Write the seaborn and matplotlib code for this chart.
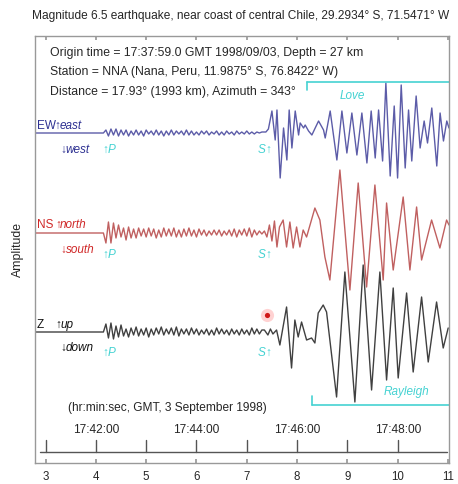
import numpy as np
import pandas as pd
import matplotlib
matplotlib.use("Agg")
import matplotlib.pyplot as plt
import seaborn as sns

# ---------------- data (time in minutes; x=4 -> 17:42:00) ----------------
pre_t = [2.79, 4.12]
pre_a = [0, 0]

noise_t = [4.15, 4.20, 4.25, 4.30, 4.35, 4.40, 4.45, 4.50, 4.55, 4.60,
           4.65, 4.70, 4.75, 4.80, 4.85, 4.90, 4.95, 5.00, 5.05, 5.10,
           5.15, 5.20, 5.25, 5.30, 5.35, 5.40, 5.45, 5.50, 5.55, 5.60,
           5.65, 5.70, 5.75, 5.80, 5.85, 5.90, 5.95, 6.00, 6.05, 6.10,
           6.15, 6.20, 6.25, 6.30, 6.35, 6.40, 6.45, 6.50, 6.55, 6.60,
           6.65, 6.70, 6.75, 6.80, 6.85, 6.90, 6.95, 7.00, 7.05, 7.10,
           7.15, 7.20, 7.25, 7.30]

ew_noise = [0, 3, -3, 4, -2, 4, -3, 3, -2, 3,
            -3, 2, -2, 3, -2, 2, -3, 3, -1, 2,
            -2, 3, -2, 2, -3, 2, -2, 3, -2, 2,
            -1, 2, -2, 3, -2, 2, -2, 1, -2, 2,
            -1, 2, -2, 1, -1, 2, -2, 1, -2, 2,
            -1, 1, -2, 2, -1, 1, -1, 2, -1, 1,
            -1, 1, 0, 1]
ns_noise = [0, -10, 11, -10, 10, -5, 8, -4, 5, -7,
            6, -5, 4, -5, 5, -3, 4, -4, 5, -3,
            4, -5, 3, -4, 5, -3, 4, -3, 5, -4,
            3, -4, 4, -3, 5, -3, 3, -4, 4, -2,
            3, -3, 2, -2, 3, -2, 3, -3, 2, -2,
            3, -3, 4, -4, 3, -2, 4, -3, 5, -4,
            3, -2, 2, -1]
z_noise = [0, 8, -6, 9, -7, 6, -5, 7, -4, 3,
           -5, 4, -3, 5, -4, 3, -3, 4, -5, 3,
           -3, 4, -2, 5, -3, 3, -2, 4, -3, 5,
           -4, 3, -2, 3, -3, 4, -2, 3, -3, 2,
           -2, 3, -3, 2, -3, 4, -2, 3, -2, 2,
           -3, 3, -2, 2, -3, 3, -2, 2, -3, 4,
           -2, 3, -2, 2]

ew_wave_t = [7.38, 7.43, 7.465, 7.50, 7.565, 7.60, 7.664, 7.731, 7.797, 7.843,
             7.897, 7.963, 8.03, 8.062, 8.129, 8.161, 8.228, 8.294, 8.36, 8.427,
             8.526, 8.559, 8.658, 8.791, 8.891, 8.99, 9.089, 9.189, 9.288, 9.388,
             9.473, 9.553, 9.62, 9.70, 9.765, 9.851, 9.931, 9.998, 10.07, 10.149,
             10.216, 10.28, 10.367, 10.446, 10.526, 10.593, 10.678, 10.777, 10.843, 10.91,
             10.976, 11.02]
ew_wave_a = [1, 4, 13, 22, -7, 23, -45, 5, -27, 23,
             -15, 22, -2, 10, 5, 8, 2, -2, 5, 12,
             3, -5, 22, -27, 22, -20, 20, -22, 20, -30,
             22, -25, 23, -28, 50, -43, 27, -45, 48, -35,
             23, -28, 37, -15, 12, -10, 25, -33, 20, -8,
             12, 5]

ns_wave_t = [7.35, 7.40, 7.45, 7.50, 7.55, 7.60, 7.65, 7.723, 7.791, 7.857,
             7.922, 7.99, 8.056, 8.121, 8.189, 8.354, 8.453, 8.553, 8.652, 8.851,
             9.05, 9.215, 9.382, 9.547, 9.712, 9.779, 9.911, 10.109, 10.243, 10.376,
             10.475, 10.674, 10.839, 10.972, 11.02]
ns_wave_a = [2, -4, 8, -8, 12, -14, 6, 13, -14, 11,
             -15, 6, -14, 3, -4, 25, 13, -24, -47, 63,
             -57, 50, -54, 48, -47, 30, -37, 36, -37, 26,
             -27, 13, -15, 13, 8]

z_wave_t = [7.35, 7.42, 7.47, 7.52, 7.592, 7.658, 7.791, 7.89, 7.956, 8.022,
            8.089, 8.189, 8.288, 8.354, 8.42, 8.519, 8.586, 8.785, 8.95, 9.149,
            9.314, 9.481, 9.646, 9.779, 9.911, 10.01, 10.177, 10.308, 10.475, 10.607,
            10.773, 10.905, 11.004]
z_wave_a = [2, -3, 3, -2, 2, -13, 25, -36, 12, -5,
            10, -8, -6, -11, 19, 27, 20, -65, 60, -70,
            67, -58, 60, -48, 44, -46, 39, -40, 35, -30,
            30, -16, 4]

time_ticks = [4, 6, 8, 10]
time_labels = ["17:42:00", "17:44:00", "17:46:00", "17:48:00"]
minute_ticks = [3, 4, 5, 6, 7, 8, 9, 10]
x_ticks = [3, 4, 5, 6, 7, 8, 9, 10, 11]

title = "Magnitude 6.5 earthquake, near coast of central Chile, 29.2934° S, 71.5471° W"
info = ["Origin time = 17:37:59.0 GMT 1998/09/03, Depth = 27 km",
        "Station = NNA (Nana, Peru, 11.9875° S, 76.8422° W)",
        "Distance = 17.93° (1993 km), Azimuth = 343°"]

# ---------------- build table ----------------
def trace(name, noise, wt, wa):
    t = pre_t + noise_t + wt
    a = pre_a + noise + wa
    return pd.DataFrame({"time": t, "amp": a, "comp": name})

df = pd.concat([trace("EW", ew_noise, ew_wave_t, ew_wave_a),
                trace("NS", ns_noise, ns_wave_t, ns_wave_a),
                trace("Z", z_noise, z_wave_t, z_wave_a)], ignore_index=True)
baseline = {"EW": 330, "NS": 230, "Z": 131}
df["y"] = df["amp"] + df["comp"].map(baseline)

# ---------------- styling ----------------
sns.set_theme(style="white")
FAM = ["Liberation Sans", "DejaVu Sans"]
plt.rcParams["font.family"] = FAM

W, H = 458, 484
fig = plt.figure(figsize=(W / 100, H / 100), dpi=100)
ax = fig.add_axes([35 / W, 21 / H, 414 / W, 427 / H])

trace_col = {"EW": "#5c5ca8", "NS": "#c06060", "Z": "#404040"}
label_col = {"EW": "#2e3192", "NS": "#d02828", "Z": "#111111"}
CYAN = "#45d2d2"

for comp in ["EW", "NS", "Z"]:
    sns.lineplot(data=df[df["comp"] == comp], x="time", y="y", ax=ax,
                 color=trace_col[comp], lw=1.0, sort=False, estimator=None)
for line in ax.lines:
    line.set_solid_joinstyle("round")

ax.set_xlim(2.79, 11.02)
ax.set_ylim(0, 427)
ax.set_xticks(x_ticks)
ax.set_xticklabels([str(v) for v in x_ticks], fontsize=8.3)
ax.set_yticks([])
ax.set_xlabel("")
ax.set_ylabel("Amplitude", fontsize=8.8, labelpad=8)
ax.tick_params(axis="x", direction="in", top=True, bottom=True, length=3,
               color="#999999", pad=6)
for s in ax.spines.values():
    s.set_color("#999999")
    s.set_linewidth(1.0)

# title and info
fig.text(241 / W, 1 - 16 / H, title, ha="center", va="center", fontsize=8.55)
for i, line in enumerate(info):
    ax.text(3.085, 410 - i * 19.5, line, ha="left", va="center", fontsize=8.8)

# component labels
fs = 8.5
def lab(x, y, s, c, italic=False, va="center"):
    ax.text(x, y, s, color=c, fontsize=fs, ha="left", va=va,
            style="italic" if italic else "normal")

# EW
lab(2.83, 337, "EW", label_col["EW"])
lab(3.18, 337, "↑", label_col["EW"])
lab(3.27, 337, "east", label_col["EW"], True)
lab(3.30, 313, "↓", label_col["EW"])
lab(3.40, 313, "west", label_col["EW"], True)
# NS
lab(2.83, 238, "NS", label_col["NS"])
lab(3.20, 238, "↑", label_col["NS"])
lab(3.29, 238, "north", label_col["NS"], True)
lab(3.30, 213, "↓", label_col["NS"])
lab(3.40, 213, "south", label_col["NS"], True)
# Z
lab(2.83, 138, "Z", label_col["Z"])
lab(3.20, 138, "↑", label_col["Z"])
lab(3.29, 138, "up", label_col["Z"], True)
lab(3.30, 115, "↓", label_col["Z"])
lab(3.40, 115, "down", label_col["Z"], True)

# P and S markers
for yb in [313, 208, 110]:
    lab(4.13, yb, "↑", CYAN)
    lab(4.23, yb, "P", CYAN, True)
    lab(7.22, yb, "S", CYAN, True)
    lab(7.36, yb, "↑", CYAN)

# red dot
ax.scatter([7.40], [148], s=90, color="#ff8080", alpha=0.35, lw=0, zorder=5)
ax.scatter([7.40], [148], s=14, color="#d01818", lw=0, zorder=6)

# Love bracket
ax.plot([8.2, 11.02], [381, 381], color=CYAN, lw=1.2, clip_on=False)
ax.plot([8.2, 8.2], [381, 373], color=CYAN, lw=1.2)
ax.text(9.09, 367, "Love", color=CYAN, fontsize=8.5, style="italic",
        ha="center", va="center")
# Rayleigh bracket
ax.plot([8.29, 11.02], [58, 58], color=CYAN, lw=1.2, clip_on=False)
ax.plot([8.29, 8.29], [58, 67], color=CYAN, lw=1.2)
ax.text(10.18, 71, "Rayleigh", color=CYAN, fontsize=8.5, style="italic",
        ha="center", va="center")

# inner time axis
ax.text(3.44, 55, "(hr:min:sec, GMT, 3 September 1998)", fontsize=8.6,
        ha="left", va="center")
ax.plot([2.88, 10.99], [11, 11], color="#555555", lw=1.0)
for m in minute_ticks:
    ax.plot([m, m], [11, 23], color="#555555", lw=1.0)
for t, l in zip(time_ticks, time_labels):
    ax.text(t, 33, l, fontsize=8.6, ha="center", va="center")

fig.savefig("out.png", dpi=100)
